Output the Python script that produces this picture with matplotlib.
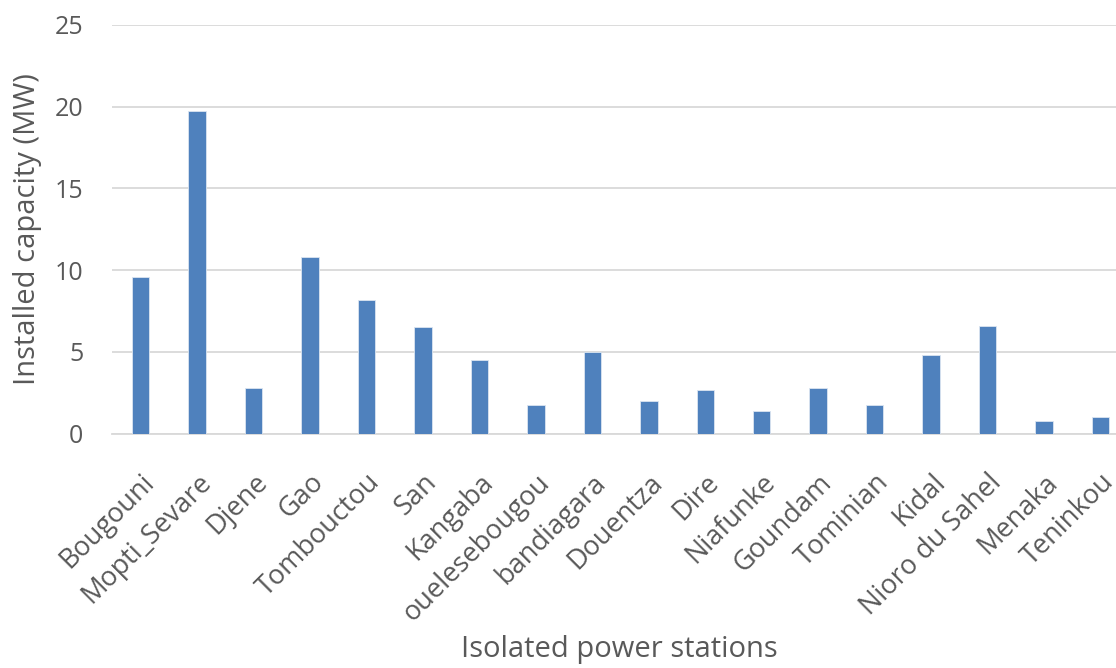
import matplotlib
matplotlib.use("Agg")
import matplotlib.pyplot as plt
import numpy as np

stations = ["Bougouni", "Mopti_Sevare", "Djene", "Gao", "Tombouctou", "San",
            "Kangaba", "ouelesebougou", "bandiagara", "Douentza", "Dire",
            "Niafunke", "Goundam", "Tominian", "Kidal", "Nioro du Sahel",
            "Menaka", "Teninkou"]
capacity_mw = [9.6, 19.7, 2.8, 10.8, 8.2, 6.5, 4.5, 1.75, 5.0, 2.0, 2.7,
               1.4, 2.8, 1.75, 4.8, 6.6, 0.8, 1.0]
y_ticks = [0, 5, 10, 15, 20, 25]

plt.rcParams["font.family"] = ["Open Sans", "DejaVu Sans"]
text_color = "#595959"

W, H = 1116, 668
fig = plt.figure(figsize=(W / 100, H / 100), dpi=100)
# the plot area runs slightly past the right edge of the canvas
ax = fig.add_axes([112.3 / W, 1 - 433.7 / H, 1016.5 / W, (433.7 - 24.7) / H])

x = np.arange(len(stations))
ax.bar(x, capacity_mw, width=0.31, color="#4f81bd", edgecolor="#dbe5f1",
       linewidth=0.6, zorder=3)

ax.set_xlim(-0.5, len(stations) - 0.5)
ax.set_ylim(0, 25)
ax.set_yticks(y_ticks)
ax.set_yticklabels([str(v) for v in y_ticks], fontsize=18, color=text_color)
ax.set_xticks(x)
ax.set_xticklabels(stations, rotation=45, ha="right", va="top",
                   rotation_mode="anchor", fontsize=19.5, color=text_color)
ax.tick_params(axis="both", length=0)
ax.tick_params(axis="y", pad=21)
ax.tick_params(axis="x", pad=25)

ax.grid(axis="y", color="#d9d9d9", linewidth=1.3, zorder=0)
for side in ["top", "right", "left"]:
    ax.spines[side].set_visible(False)
ax.spines["bottom"].set_color("#d9d9d9")
ax.spines["bottom"].set_linewidth(1.3)

fig.text(27.5 / W, 1 - 229 / H, "Installed capacity (MW)", rotation=90,
         ha="center", va="center", fontsize=21, color=text_color)
fig.text(619 / W, 1 - 650 / H, "Isolated power stations",
         ha="center", va="center", fontsize=21, color=text_color)

fig.savefig("out.png", dpi=100)
